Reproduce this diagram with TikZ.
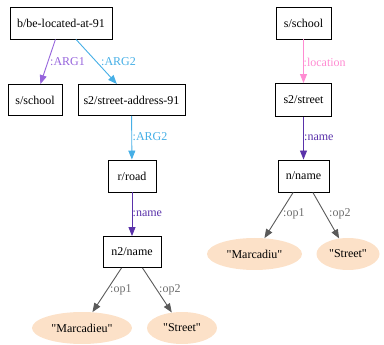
\documentclass[tikz,border=0pt]{standalone}
\usepackage{fontspec}
\setmainfont{Liberation Serif}[Ligatures=TeXOff]
\usetikzlibrary{shapes.geometric,arrows.meta}
\definecolor{argone}{RGB}{150,100,220}
\definecolor{argtwo}{RGB}{70,175,230}
\definecolor{namecol}{RGB}{90,50,170}
\definecolor{loccol}{RGB}{255,140,210}
\definecolor{opcol}{RGB}{90,90,90}
\definecolor{oplab}{RGB}{110,110,110}
\definecolor{peach}{RGB}{252,225,200}
\begin{document}
\begin{tikzpicture}[x=1pt,y=-1pt,
  font=\fontsize{12}{14}\selectfont,
  box/.style={draw=black,line width=0.9pt,rectangle,minimum height=32pt,inner sep=0pt},
  oval/.style={ellipse,fill=peach,draw=none,minimum height=32pt,inner sep=0pt},
  edge/.style={line width=0.9pt,-{Triangle[length=9pt,width=7pt]}},
  lab/.style={anchor=west,inner sep=0pt}]
\useasboundingbox (0,0) rectangle (384,345);
% left graph
\node[box,minimum width=102pt] (b) at (61,23) {b/be-located-at-91};
\node[box,minimum width=54pt,minimum height=31pt] (s) at (35,100) {s/school};
\node[box,minimum width=107pt,minimum height=31pt] (s2) at (131.5,100) {s2/street-address-91};
\node[box,minimum width=48pt] (r) at (132,176) {r/road};
\node[box,minimum width=58pt,minimum height=31pt] (n2) at (132,252) {n2/name};
\node[oval,minimum width=100pt] (m) at (82,328) {"Marcadieu"};
\node[oval,minimum width=70pt] (st) at (182,328) {"Street"};
\draw[edge,argone] (b) -- (s);
\draw[edge,argtwo] (b) -- (s2);
\draw[edge,argtwo] (s2) -- (r);
\draw[edge,namecol] (r) -- (n2);
\draw[edge,opcol] (n2) -- (m);
\draw[edge,opcol] (n2) -- (st);
\node[lab,text=argone] (l1) at (50,62) {:ARG1};
\node[lab,text=argtwo] (l2) at (101,62) {:ARG2};
\node[lab,text=argtwo] (l3) at (132.5,137) {:ARG2};
\node[lab,text=namecol] (l4) at (132.5,214) {:name};
\node[lab,text=oplab] (l5) at (110,290) {:op1};
\node[lab,text=oplab] (l6) at (159,290) {:op2};
% right graph
\node[box,minimum width=55pt] (rs) at (303.5,23) {s/school};
\node[box,minimum width=56pt,minimum height=33pt] (rs2) at (303.5,100) {s2/street};
\node[box,minimum width=51pt] (rn) at (303.5,176) {n/name};
\node[oval,minimum width=95pt] (rm) at (254.5,254) {"Marcadiu"};
\node[oval,minimum width=63pt] (rst) at (348,254) {"Street"};
\draw[edge,loccol] (rs) -- (rs2);
\draw[edge,namecol] (rs2) -- (rn);
\draw[edge,opcol] (rn) -- (rm);
\draw[edge,opcol] (rn) -- (rst);
\node[lab,text=loccol] (l7) at (303.5,62) {:location};
\node[lab,text=namecol] (l8) at (304,138) {:name};
\node[lab,text=oplab] (l9) at (283,214) {:op1};
\node[lab,text=oplab] (l10) at (329,214) {:op2};
\end{tikzpicture}
\end{document}
